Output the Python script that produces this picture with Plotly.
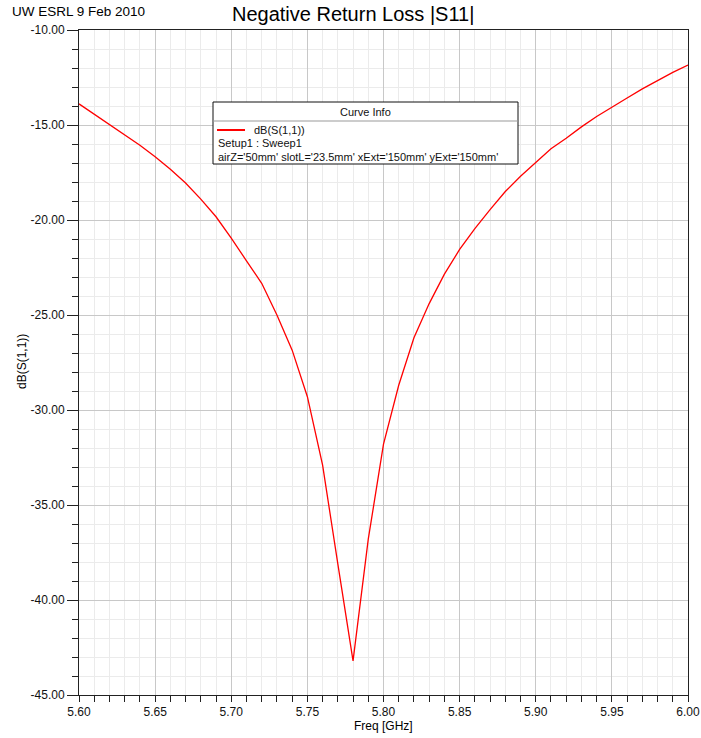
import plotly.graph_objects as go

# Swept S11 response of the slot antenna
freq_ghz = [5.60, 5.61, 5.62, 5.63, 5.64, 5.65, 5.66, 5.67, 5.68, 5.69,
            5.70, 5.71, 5.72, 5.73, 5.74, 5.75, 5.76, 5.77, 5.78, 5.79,
            5.80, 5.81, 5.82, 5.83, 5.84, 5.85, 5.86, 5.87, 5.88, 5.89,
            5.90, 5.91, 5.92, 5.93, 5.94, 5.95, 5.96, 5.97, 5.98, 5.99, 6.00]
s11_db = [-13.89, -14.43, -14.96, -15.50, -16.07, -16.67, -17.33, -18.05, -18.90, -19.83,
          -20.95, -22.15, -23.33, -25.00, -26.85, -29.30, -32.90, -38.10, -43.20, -36.80,
          -31.80, -28.70, -26.20, -24.40, -22.85, -21.55, -20.45, -19.45, -18.50, -17.70,
          -16.95, -16.25, -15.70, -15.10, -14.55, -14.05, -13.58, -13.10, -12.65, -12.23, -11.84]

# Axis tick values and their printed labels (plain hyphen minus signs)
x_ticks = [5.60, 5.65, 5.70, 5.75, 5.80, 5.85, 5.90, 5.95, 6.00]
x_tick_text = ["5.60", "5.65", "5.70", "5.75", "5.80", "5.85", "5.90", "5.95", "6.00"]
y_ticks = [-45, -40, -35, -30, -25, -20, -15, -10]
y_tick_text = ["-45.00", "-40.00", "-35.00", "-30.00", "-25.00", "-20.00", "-15.00", "-10.00"]

trace_name = "dB(S(1,1))"
setup_text = "Setup1 : Sweep1"
param_text = "airZ='50mm' slotL='23.5mm' xExt='150mm' yExt='150mm'"

FONT = "Liberation Sans, Arial, sans-serif"
L, R, T, B = 79, 13, 30, 43
W, H = 701, 738
PW, PH = W - L - R, H - T - B


def px(xp):
    return (xp - L) / PW


def py(yp):
    return (H - B - yp) / PH


fig = go.Figure()
fig.add_trace(go.Scatter(
    x=freq_ghz, y=s11_db, mode="lines", name=trace_name,
    line=dict(color="#ff0000", width=1.3), showlegend=False,
))

axis_common = dict(
    showline=True, linecolor="#222222", linewidth=1, mirror=True,
    ticks="outside", tickcolor="#222222", tickwidth=1, automargin=False,
    tickfont=dict(family=FONT, size=12, color="#111111"),
    gridcolor="#c8c8c8", gridwidth=1, zeroline=False,
)

fig.update_xaxes(
    range=[5.60, 6.00], tickmode="array", tickvals=x_ticks, ticktext=x_tick_text, ticklen=6,
    minor=dict(dtick=0.01, tick0=5.60, ticks="outside", ticklen=6, tickcolor="#222222",
               showgrid=True, gridcolor="#ebebeb", gridwidth=1),
    **axis_common,
)
fig.update_yaxes(
    range=[-45, -10], tickmode="array", tickvals=y_ticks, ticktext=y_tick_text, ticklen=11,
    minor=dict(dtick=1, tick0=-45, ticks="outside", ticklen=6, tickcolor="#222222",
               showgrid=True, gridcolor="#ebebeb", gridwidth=1),
    **axis_common,
)

# Curve info box
box_x0, box_x1 = px(213), px(518)
box_y0, box_y1 = py(164), py(102)
fig.add_shape(type="rect", xref="paper", yref="paper",
              x0=box_x0, x1=box_x1, y0=box_y0, y1=box_y1,
              line=dict(color="#111111", width=1), fillcolor="white", layer="above")
fig.add_shape(type="line", xref="paper", yref="paper",
              x0=box_x0, x1=box_x1, y0=py(121), y1=py(121),
              line=dict(color="#999999", width=1), layer="above")
fig.add_shape(type="line", xref="paper", yref="paper",
              x0=px(217), x1=px(245), y0=py(130), y1=py(130),
              line=dict(color="#ff0000", width=2), layer="above")

small = dict(family=FONT, size=11, color="#111111")
annotations = [
    dict(text="Curve Info", x=px(365), y=py(112), xanchor="center", yanchor="middle", font=small),
    dict(text=trace_name, x=px(252), y=py(130), xanchor="left", yanchor="middle", font=small),
    dict(text=setup_text, x=px(216), y=py(143), xanchor="left", yanchor="middle", font=small),
    dict(text=param_text, x=px(216), y=py(157), xanchor="left", yanchor="middle", font=small),
    dict(text="Negative Return Loss |S11|", x=px(353), y=py(14), xanchor="center", yanchor="middle",
         font=dict(family=FONT, size=20, color="#000000")),
    dict(text="UW ESRL 9 Feb 2010", x=px(10), y=py(12), xanchor="left", yanchor="middle",
         font=dict(family=FONT, size=13.5, color="#000000")),
    dict(text="Freq [GHz]", x=px(383), y=py(726), xanchor="center", yanchor="middle",
         font=dict(family=FONT, size=12, color="#000000")),
    dict(text="dB(S(1,1))", x=px(22), y=py(362), xanchor="center", yanchor="middle", textangle=-90,
         font=dict(family=FONT, size=12, color="#000000")),
]
for a in annotations:
    a.update(xref="paper", yref="paper", showarrow=False)
fig.update_layout(annotations=annotations)

fig.update_layout(
    width=W, height=H, margin=dict(l=L, r=R, t=T, b=B),
    plot_bgcolor="white", paper_bgcolor="white",
    font=dict(family=FONT),
)

fig.write_html("out.html")
